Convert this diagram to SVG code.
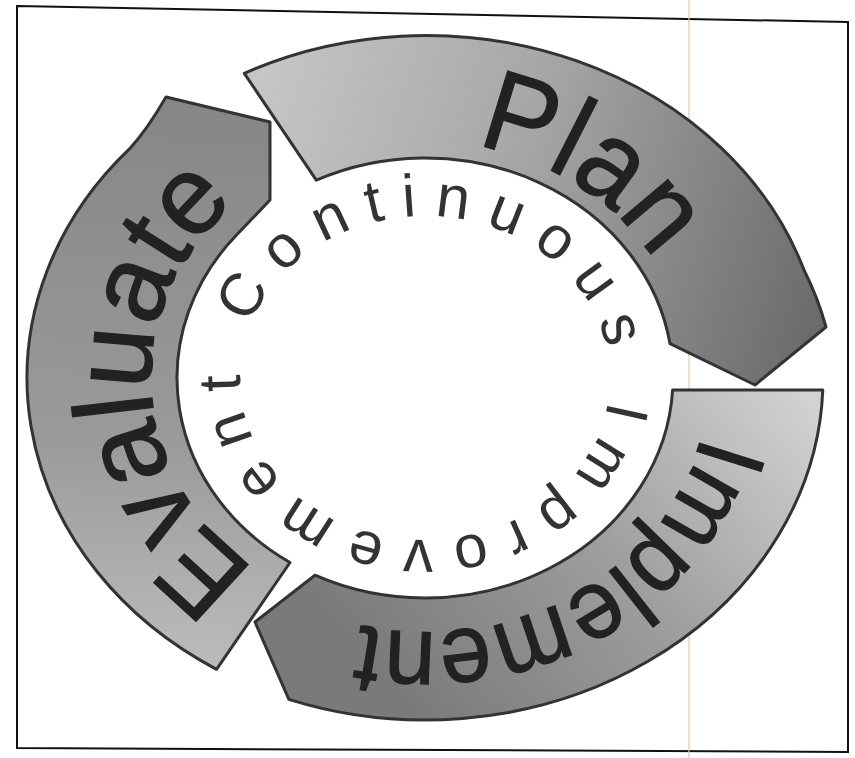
<svg xmlns="http://www.w3.org/2000/svg" width="855" height="758" viewBox="0 0 855 758">
  <defs>
    <linearGradient id="gPlan" gradientUnits="userSpaceOnUse" x1="245" y1="120" x2="830" y2="300">
      <stop offset="0" stop-color="#c6c6c6"/>
      <stop offset="0.45" stop-color="#a6a6a6"/>
      <stop offset="1" stop-color="#6a6a6a"/>
    </linearGradient>
    <linearGradient id="gImpl" gradientUnits="userSpaceOnUse" x1="800" y1="390" x2="420" y2="720">
      <stop offset="0" stop-color="#d2d2d2"/>
      <stop offset="0.5" stop-color="#9e9e9e"/>
      <stop offset="1" stop-color="#7a7a7a"/>
    </linearGradient>
    <linearGradient id="gEval" gradientUnits="userSpaceOnUse" x1="200" y1="100" x2="180" y2="670">
      <stop offset="0" stop-color="#868686"/>
      <stop offset="0.6" stop-color="#9a9a9a"/>
      <stop offset="1" stop-color="#bcbcbc"/>
    </linearGradient>
    <path id="planPath" d="M 475.4 146.3 A 264 236 0 0 1 673.1 297.3"/>
    <path id="implPath" d="M 701.7 435.1 A 284 254 0 0 1 356.3 624.5"/>
    <path id="evalPath" d="M 256.3 568.7 A 274 242 0 0 1 252.6 190"/>
    <path id="innerPath" d="M 250.1 325.3 A 185 162 0 0 1 585.2 297 A 185 162 0 0 1 425 540 A 185 162 0 0 1 240.3 369.5"/>
  </defs>
  <style>
    .band { stroke: #333333; stroke-width: 3; stroke-linejoin: round; }
    .label { font-family: "Liberation Sans", "DejaVu Sans", sans-serif; fill: #222222; stroke: #222222; stroke-width: 1.2; }
    .inner { font-family: "Liberation Sans", "DejaVu Sans", sans-serif; fill: #333333; font-size: 60px; }
  </style>
  <rect x="0" y="0" width="855" height="758" fill="#ffffff"/>
  <g id="frame">
    <polygon points="17,6 848,22 848,752 17,748" fill="none" stroke="#111111" stroke-width="2"/>
    <line x1="689" y1="0" x2="689" y2="758" stroke="#e9c9a6" stroke-width="1.5" opacity="0.8"/>
  </g>
  <g id="connectors"></g>
  <g id="plan">
    <path class="band" fill="url(#gPlan)" d="M 244.3 73.3 A 398 342 0 0 1 804 270 Q 818 298 826 327 L 755 385 L 670 343.6 A 248 220 0 0 0 316.3 180.2 Z"/>
    <text class="label" font-size="115"><textPath href="#planPath" textLength="218" lengthAdjust="spacingAndGlyphs">Plan</textPath></text>
  </g>
  <g id="implement">
    <path class="band" fill="url(#gImpl)" d="M 822.8 390 A 398 342 0 0 1 288.9 699.4 L 255 622 L 315 575.2 A 248 220 0 0 0 672.6 390 Z"/>
    <text class="label" font-size="98"><textPath href="#implPath" textLength="430" lengthAdjust="spacingAndGlyphs">Implement</textPath></text>
  </g>
  <g id="evaluate">
    <path class="band" fill="url(#gEval)" d="M 216.5 669.3 A 398 342 0 0 1 129.2 149.2 Q 147 130 166 97 L 270 122 L 270 200 L 237 234.5 A 248 220 0 0 0 290 562.5 Z"/>
    <text class="label" font-size="112"><textPath href="#evalPath" textLength="428" lengthAdjust="spacingAndGlyphs">Evaluate</textPath></text>
  </g>
  <g id="center">
    <text class="inner"><textPath href="#innerPath" textLength="1040" lengthAdjust="spacing">Continuous Improvement</textPath></text>
  </g>
</svg>
